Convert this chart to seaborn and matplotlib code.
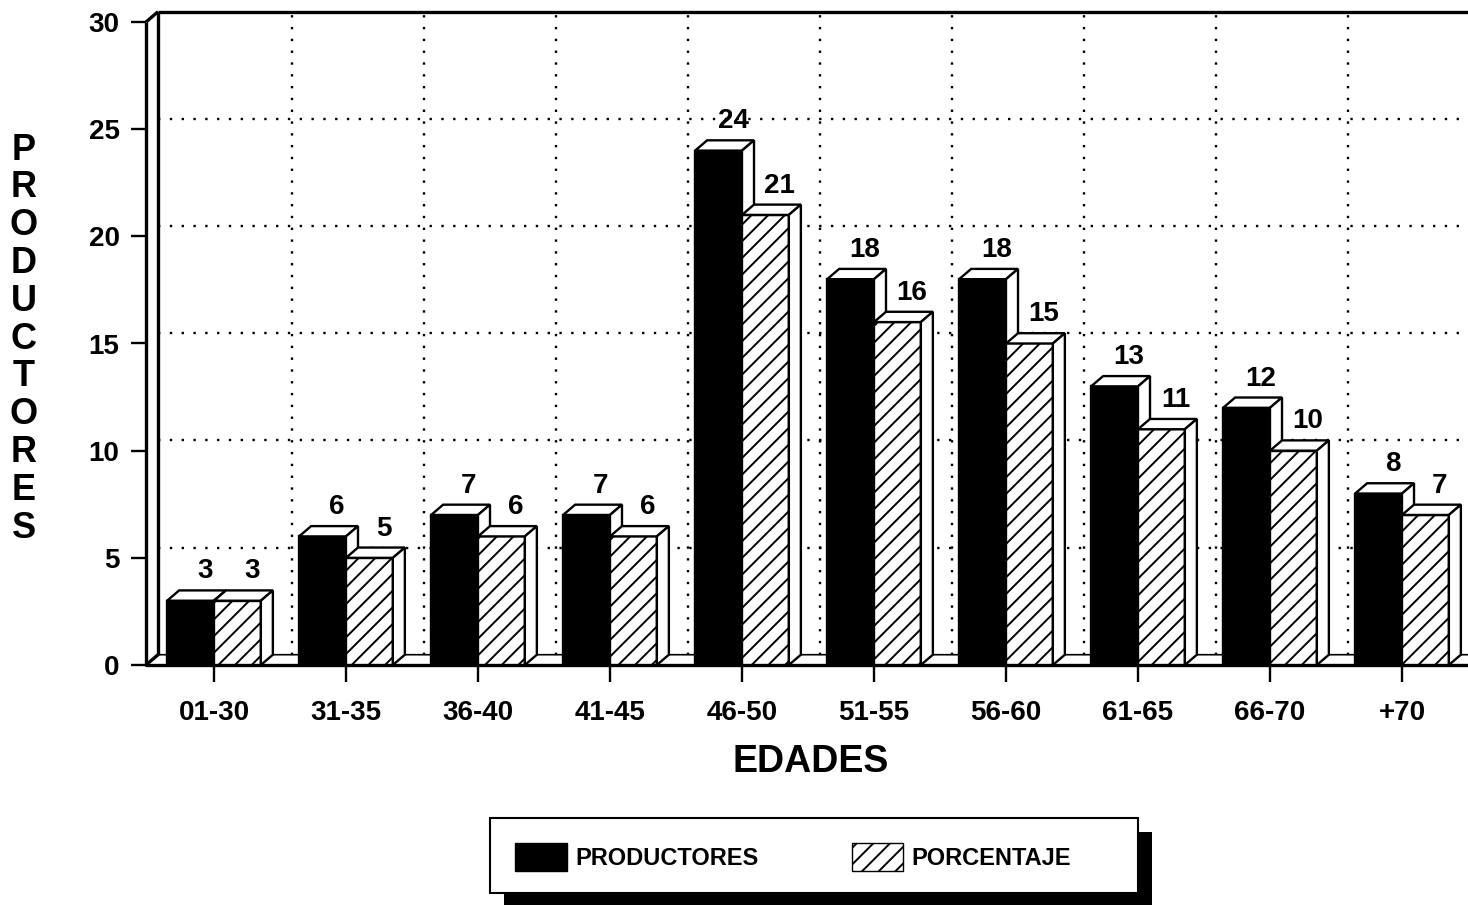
import matplotlib
matplotlib.use("Agg")
import matplotlib.pyplot as plt
from matplotlib.patches import Polygon, Rectangle, Patch
import seaborn as sns
import pandas as pd

# Datos
categorias = ["01-30", "31-35", "36-40", "41-45", "46-50",
              "51-55", "56-60", "61-65", "66-70", "+70"]
productores = [3, 6, 7, 7, 24, 18, 18, 13, 12, 8]
porcentaje = [3, 5, 6, 6, 21, 16, 15, 11, 10, 7]
series = ["PRODUCTORES", "PORCENTAJE"]
y_ticks = [0, 5, 10, 15, 20, 25, 30]

sns.set_theme(style="white")
plt.rcParams["font.family"] = ["Liberation Sans", "DejaVu Sans"]
plt.rcParams["font.weight"] = "bold"
plt.rcParams["hatch.linewidth"] = 1.4
for key in ("text.color", "axes.labelcolor", "xtick.color", "ytick.color"):
    plt.rcParams[key] = "black"

df = pd.DataFrame({
    "edad": categorias * 2,
    "valor": productores + porcentaje,
    "serie": [series[0]] * len(categorias) + [series[1]] * len(categorias),
})

W, H = 1468, 905
fig = plt.figure(figsize=(W / 100, H / 100), dpi=100)
ax = fig.add_axes([146 / W, (H - 665) / H, 1322 / W, 643 / H])

sns.barplot(data=df, x="edad", y="valor", hue="serie", order=categorias,
            hue_order=series, palette={series[0]: "black", series[1]: "white"},
            width=0.71, edgecolor="black", linewidth=1.7, saturation=1,
            legend=False, ax=ax)

x_left, x_right = -0.515, 9.5
ax.set_xlim(x_left, x_right)
ax.set_ylim(0, 30)

# depth of the pseudo-3D effect, in data units
dx, dy = 0.091, 0.48

# floor and walls
floor = Polygon([(x_left, 0), (x_right + 1, 0), (x_right + 1 + dx, dy),
                 (x_left + dx, dy)], closed=True, facecolor="white",
                edgecolor="black", lw=1.2, zorder=1, clip_on=False)
ax.add_patch(floor)
ax.plot([x_left, x_right], [0, 0], color="black", lw=2.4, zorder=1.2, clip_on=False)
frame_kw = dict(color="black", lw=2.4, zorder=1.2, clip_on=False, solid_capstyle="butt")
ax.plot([x_left, x_left], [0, 30], **frame_kw)
ax.plot([x_left + dx, x_left + dx], [dy, 30 + dy], **frame_kw)
ax.plot([x_left, x_left + dx], [30, 30 + dy], **frame_kw)
ax.plot([x_left, x_left + dx], [0, dy], **frame_kw)
ax.plot([x_left + dx, x_right], [30 + dy, 30 + dy], **frame_kw)

# dotted grid on the back wall
grid_kw = dict(color="black", lw=1.7, linestyle=(0, (1, 4)), zorder=0.8, clip_on=False)
for v in y_ticks[1:-1]:
    ax.plot([x_left + dx, x_right], [v + dy, v + dy], **grid_kw)
for i in range(len(categorias) - 1):
    ax.plot([i + 0.5 + dx] * 2, [dy, 30 + dy], **grid_kw)

# bars: hatch, depth faces and value labels
for k, cont in enumerate(ax.containers):
    z = 3 + k
    for p in cont.patches:
        p.set_zorder(z)
        if k == 1:
            p.set_hatch("//")
        x0, w, h = p.get_x(), p.get_width(), p.get_height()
        top = Polygon([(x0, h), (x0 + w, h), (x0 + w + dx, h + dy), (x0 + dx, h + dy)],
                      closed=True, facecolor="white", edgecolor="black", lw=1.7, zorder=z)
        side = Polygon([(x0 + w, 0), (x0 + w + dx, dy), (x0 + w + dx, h + dy), (x0 + w, h)],
                       closed=True, facecolor="white", edgecolor="black", lw=1.7, zorder=z)
        ax.add_patch(top)
        ax.add_patch(side)
        ax.text(x0 + w / 2 + dx * 1.2, h + dy + 0.28, f"{h:g}", ha="center", va="bottom",
                fontsize=20, fontweight="bold", zorder=6)

for s in ax.spines.values():
    s.set_visible(False)

ax.set_yticks(y_ticks)
ax.set_yticklabels([str(v) for v in y_ticks])
ax.set_xticks(range(len(categorias)))
ax.set_xticklabels(categorias)
ax.tick_params(axis="y", direction="out", length=11, width=1.7, pad=8,
               labelsize=20, left=True, color="black", labelcolor="black")
ax.tick_params(axis="x", direction="out", length=12, width=1.7, pad=13,
               labelsize=20, bottom=True, color="black", labelcolor="black")
for lab in ax.get_xticklabels() + ax.get_yticklabels():
    lab.set_fontweight("bold")

ax.set_xlabel("EDADES", fontsize=27, fontweight="bold", color="black")
ax.xaxis.set_label_coords((811 - 146) / 1322, (665 - 762) / 643)
ax.xaxis.label.set_va("center")
ax.set_ylabel("")

# vertical stacked axis title
for k, ch in enumerate("PRODUCTORES"):
    fig.text(24 / W, 1 - (150 + k * 37.8) / H, ch, ha="center", va="center",
             fontsize=26, fontweight="bold", color="black")

# legend with drop shadow
fig.patches.append(Rectangle((504 / W, 1 - 907 / H), 648 / W, 75 / H,
                             transform=fig.transFigure, facecolor="black",
                             edgecolor="none", zorder=0))
fig.patches.append(Rectangle((490 / W, 1 - 893 / H), 648 / W, 75 / H,
                             transform=fig.transFigure, facecolor="white",
                             edgecolor="black", lw=1.5, zorder=1))
handles = [Patch(facecolor="black", edgecolor="black", label=series[0]),
           Patch(facecolor="white", edgecolor="black", hatch="//", label=series[1])]
leg = fig.legend(handles=handles, loc="center", bbox_to_anchor=(793 / W, 1 - 857 / H),
                 ncol=2, frameon=False, fontsize=17, handlelength=2.2, handleheight=1.45,
                 handletextpad=0.35, columnspacing=3.95)
for t in leg.get_texts():
    t.set_fontweight("bold")
    t.set_color("black")

fig.savefig("out.png", dpi=100)
